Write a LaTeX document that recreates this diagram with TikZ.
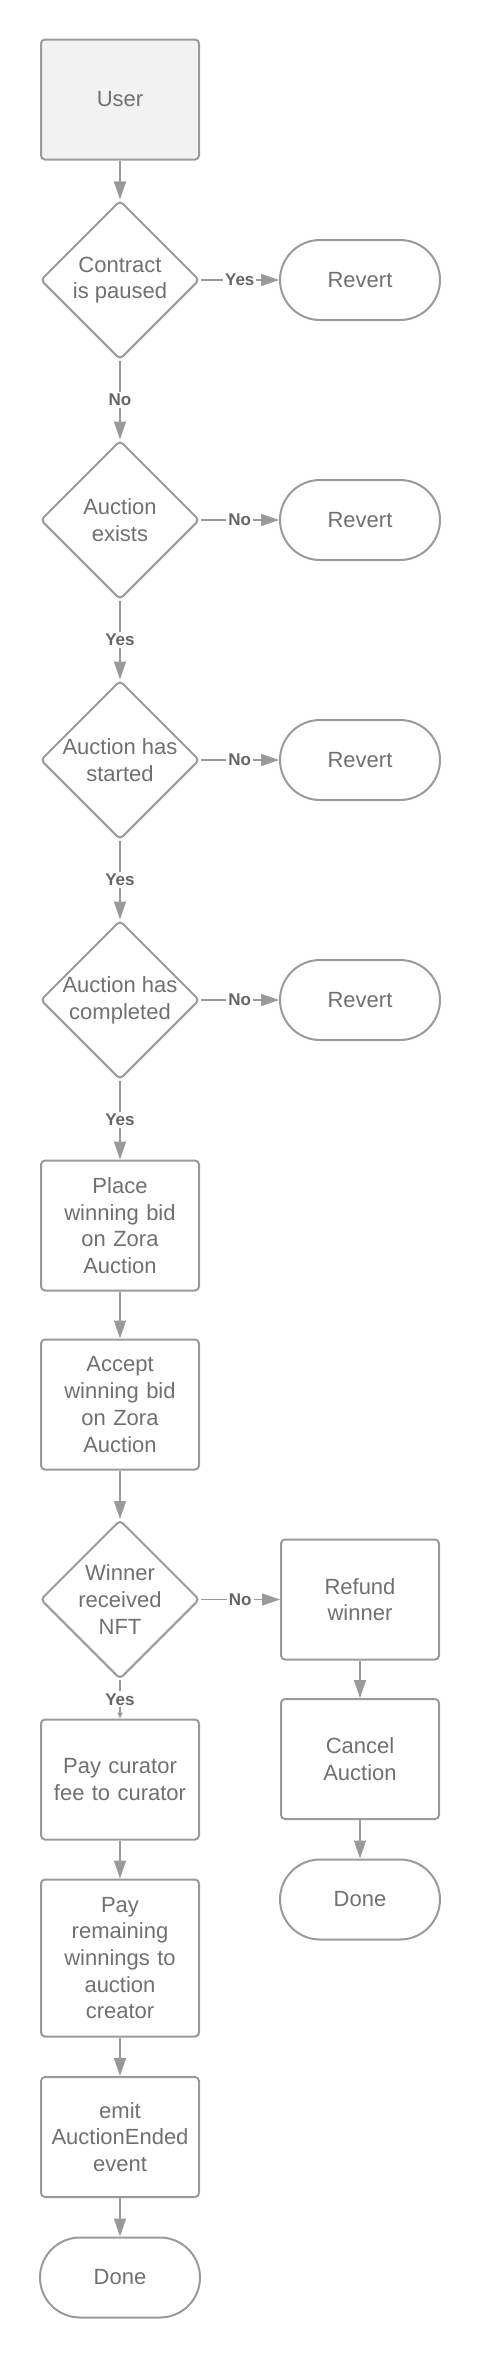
\documentclass[tikz,border=0pt]{standalone}
\usepackage{fontspec}
\setmainfont{Liberation Sans}
\usetikzlibrary{arrows.meta,shapes.geometric}
\definecolor{linegray}{HTML}{9A9A9A}
\definecolor{textgray}{HTML}{707070}
\definecolor{labgray}{HTML}{666666}
\definecolor{userfill}{HTML}{F2F2F2}

\begin{document}
\begin{tikzpicture}[x = .5pt, y = -.5pt,
  every node/.style = {text = textgray, align = center, font = \fontsize{11}{13.35}\selectfont},
  proc/.style = {rectangle, draw = linegray, line width = 1pt, rounded corners = 2pt, minimum width = 79pt, minimum height = 60pt, text width = 72pt, inner sep = 0pt},
  decision/.style = {diamond, aspect = 1, draw = linegray, line width = 1pt, rounded corners = 2pt, minimum width = 79.5pt, minimum height = 79.5pt, inner sep = -6pt},
  term/.style = {rectangle, draw = linegray, line width = 1pt, rounded corners = 20pt, minimum width = 80pt, minimum height = 40pt},
  flow/.style = {-{Triangle[length = 9pt, width = 6pt]}, draw = linegray, line width = .75pt},
  edgelab/.style = {fill = white, text = labgray, inner sep = 1pt, font = \bfseries\fontsize{8.5}{9}\selectfont}]
  \useasboundingbox (0,0) rectangle (481,2357);
  \node (user)      at (120,99.5)   [proc, fill = userfill] {User};
  \node (paused)    at (120,280)    [decision] {Contract\\is paused};
  \node (revA)      at (360,280)    [term] {Revert};
  \node (exists)    at (120,520)    [decision] {Auction\\exists};
  \node (revB)      at (360,520)    [term] {Revert};
  \node (started)   at (120,760)    [decision] {Auction has\\started};
  \node (revC)      at (360,760)    [term] {Revert};
  \node (completed) at (120,1000)   [decision] {Auction has\\completed};
  \node (revD)      at (360,1000)   [term] {Revert};
  \node (place)     at (120,1225.5) [proc, minimum height = 65pt] {Place\\winning bid\\on Zora\\Auction};
  \node (accept)    at (120,1404.5) [proc, minimum height = 65pt] {Accept\\winning bid\\on Zora\\Auction};
  \node (received)  at (120,1599.5) [decision] {Winner\\received\\NFT};
  \node (refund)    at (360,1599.5) [proc] {Refund\\winner};
  \node (cancel)    at (360,1759)   [proc] {Cancel\\Auction};
  \node (doneR)     at (360,1899.5) [term] {Done};
  \node (curator)   at (120,1779.5) [proc] {Pay curator\\fee to curator};
  \node (remaining) at (120,1958)   [proc, minimum height = 78.5pt] {Pay\\remaining\\winnings to\\auction\\creator};
  \node (emit)      at (120,2137)   [proc] {emit\\AuctionEnded\\event};
  \node (doneL)     at (120,2277.5) [term] {Done};

  \draw [flow] (user) -- (paused);
  \draw [flow] (paused) -- node [edgelab] {Yes} (revA);
  \draw [flow] (paused) -- node [edgelab] {No} (exists);
  \draw [flow] (exists) -- node [edgelab] {No} (revB);
  \draw [flow] (exists) -- node [edgelab] {Yes} (started);
  \draw [flow] (started) -- node [edgelab] {No} (revC);
  \draw [flow] (started) -- node [edgelab] {Yes} (completed);
  \draw [flow] (completed) -- node [edgelab] {No} (revD);
  \draw [flow] (completed) -- node [edgelab] {Yes} (place);
  \draw [flow] (place) -- (accept);
  \draw [flow] (accept) -- (received);
  \draw [flow] (received) -- node [edgelab] {No} (refund);
  \draw [flow, -{Triangle[length = 3pt, width = 2.5pt]}] (received) -- node [edgelab] {Yes} (curator);
  \draw [flow] (refund) -- (cancel);
  \draw [flow] (cancel) -- (doneR);
  \draw [flow] (curator) -- (remaining);
  \draw [flow] (remaining) -- (emit);
  \draw [flow] (emit) -- (doneL);
\end{tikzpicture}
\end{document}
